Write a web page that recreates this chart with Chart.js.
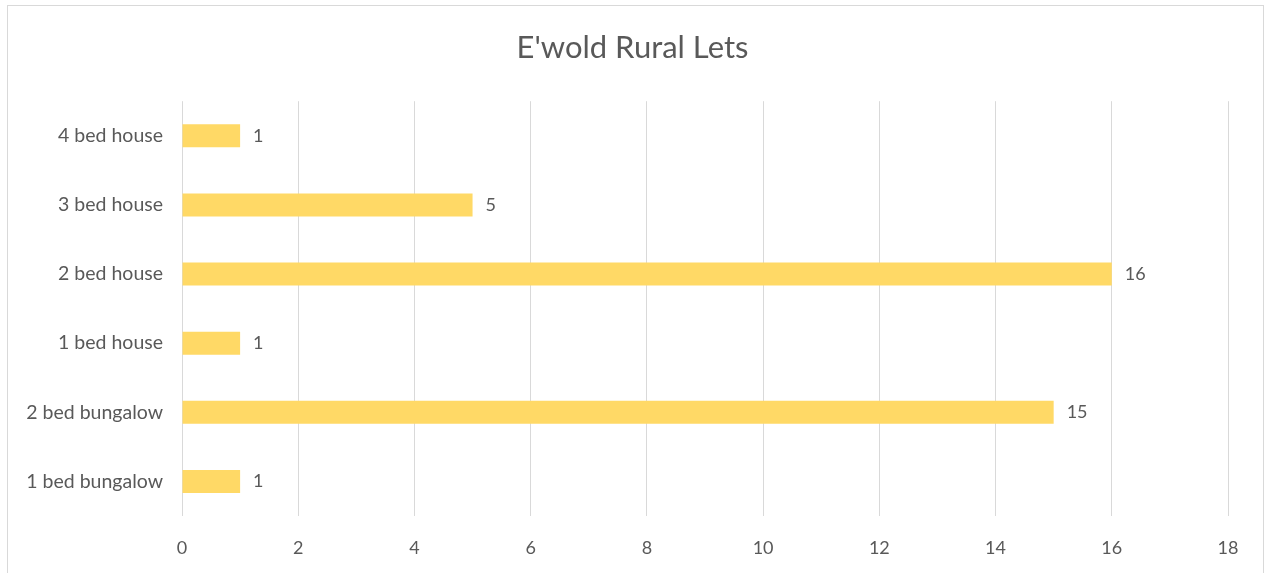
<!DOCTYPE html>
<html lang="en">

<head>
  <meta charset="UTF-8">
  <title>E'wold Rural Lets</title>
  <style>
    body {
      margin: 0;
      background: #ffffff;
    }

    .quadro {
      position: absolute;
      left: 7px;
      top: 5px;
      width: 1255px;
      height: 600px;
      border: 1px solid #d9d9d9;
    }

    #grafico {
      position: absolute;
      left: 0;
      top: 0;
    }
  </style>
</head>

<body>
  <div class="quadro"></div>
  <canvas id="grafico" width="1265" height="573"></canvas>
</body>

</html>
<script src="https://cdn.jsdelivr.net/npm/chart.js"></script>

<script>
  // dados
  var categorias = ['4 bed house', '3 bed house', '2 bed house', '1 bed house', '2 bed bungalow', '1 bed bungalow'];
  var quantidades = [1, 5, 16, 1, 15, 1];
  var ticksX = [0, 2, 4, 6, 8, 10, 12, 14, 16, 18];

  var corTexto = '#595959';
  var fonte = 'Lato, "Open Sans", sans-serif';

  // rótulos de valor ao lado das barras
  var rotulosBarras = {
    id: 'rotulosBarras',
    afterLayout(chart) {
      // título centralizado no canvas inteiro, não só na área com padding
      if (chart.titleBlock) {
        chart.titleBlock.left = 0;
        chart.titleBlock.right = chart.width;
        chart.titleBlock.width = chart.width;
      }
    },
    afterDatasetsDraw(chart) {
      var ctx = chart.ctx;
      var meta = chart.getDatasetMeta(0);
      ctx.save();
      ctx.fillStyle = corTexto;
      ctx.font = '18px ' + fonte;
      ctx.textAlign = 'left';
      ctx.textBaseline = 'middle';
      meta.data.forEach(function (barra, i) {
        ctx.fillText(quantidades[i], barra.x + 13, barra.y);
      });
      ctx.restore();
    }
  };

  var canva_grafico = document.getElementById('grafico');
  var grafico = new Chart(canva_grafico, {
    type: 'bar',
    data: {
      labels: categorias,
      datasets: [{
        label: 'Lets',
        data: quantidades,
        backgroundColor: '#ffd966',
        borderWidth: 0,
        barPercentage: 1,
        categoryPercentage: 0.333
      }]
    },
    options: {
      indexAxis: 'y',
      responsive: false,
      animation: false,
      devicePixelRatio: 1,
      layout: {
        padding: { left: 0, right: 37, top: 0, bottom: 0 }
      },
      plugins: {
        legend: { display: false },
        tooltip: { enabled: false },
        title: {
          display: true,
          text: "E'wold Rural Lets",
          color: corTexto,
          font: { family: fonte, size: 31, weight: 'normal' },
          padding: { top: 29, bottom: 35 }
        }
      },
      scales: {
        x: {
          min: 0,
          max: 18,
          afterBuildTicks: function (eixo) {
            eixo.ticks = ticksX.map(function (v) { return { value: v }; });
          },
          afterFit: function (eixo) {
            eixo.height = 57;
          },
          grid: {
            color: '#d9d9d9',
            lineWidth: 1,
            drawTicks: false
          },
          border: { display: false },
          ticks: {
            color: corTexto,
            padding: 21,
            font: { family: fonte, size: 18 }
          }
        },
        y: {
          afterFit: function (eixo) {
            eixo.width = 182;
          },
          grid: { display: false, drawTicks: false },
          border: { display: false },
          ticks: {
            color: corTexto,
            padding: 19,
            font: { family: fonte, size: 19.5 }
          }
        }
      }
    },
    plugins: [rotulosBarras]
  });
</script>
